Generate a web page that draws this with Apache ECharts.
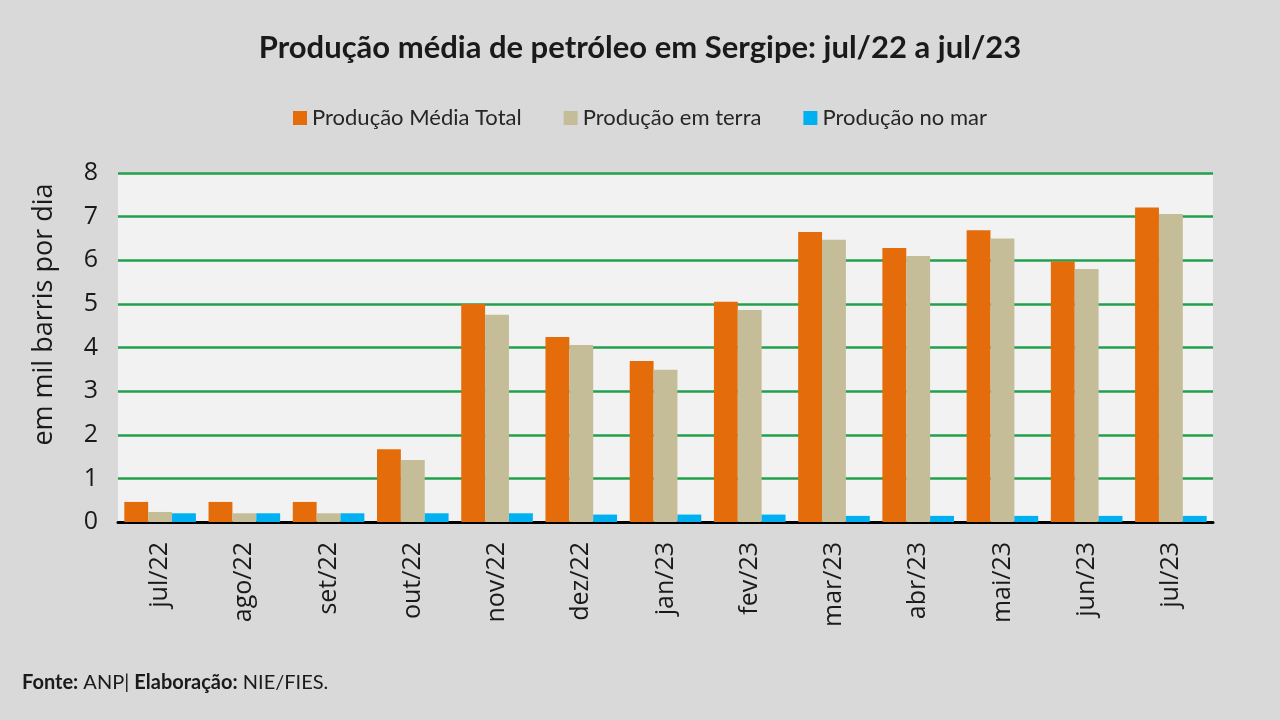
<!DOCTYPE html>
<html>
<head>
<meta charset="utf-8">
<script src="https://cdn.jsdelivr.net/npm/echarts@6/dist/echarts.min.js"></script>
<style>
  html, body { margin: 0; padding: 0; background: #d9d9d9; }
  #chart { width: 1280px; height: 720px; }
</style>
</head>
<body>
<div id="chart"></div>
<script>
// meses (jul/22 a jul/23)
var meses = ['jul/22', 'ago/22', 'set/22', 'out/22', 'nov/22', 'dez/22', 'jan/23',
  'fev/23', 'mar/23', 'abr/23', 'mai/23', 'jun/23', 'jul/23']
// em mil barris por dia
var producaoTotal = [0.46, 0.46, 0.46, 1.67, 5.0, 4.24, 3.69, 5.05, 6.65, 6.28, 6.69, 5.97, 7.21]
var producaoTerra = [0.23, 0.2, 0.2, 1.42, 4.75, 4.06, 3.49, 4.86, 6.47, 6.1, 6.5, 5.8, 7.06]
var producaoMar = [0.2, 0.2, 0.2, 0.2, 0.2, 0.17, 0.17, 0.17, 0.14, 0.14, 0.14, 0.14, 0.14]
var yTicks = [0, 1, 2, 3, 4, 5, 6, 7, 8]

var chart = echarts.init(document.getElementById('chart'))
var option = {
  backgroundColor: '#d9d9d9',
  animation: false,
  title: [{
    text: 'Produção média de petróleo em Sergipe: jul/22 a jul/23',
    left: 'center',
    top: 27,
    textStyle: { fontFamily: 'Lato', fontWeight: 'bold', fontSize: 31, color: '#1a1a1a' }
  }, {
    text: '{b|Fonte:} ANP| {b|Elaboração:} NIE/FIES.',
    left: 17,
    top: 668,
    textStyle: {
      fontFamily: 'Lato', fontWeight: 'normal', fontSize: 20, color: '#1a1a1a',
      rich: { b: { fontFamily: 'Lato', fontWeight: 'bold', fontSize: 20, color: '#1a1a1a' } }
    }
  }],
  legend: {
    top: 102,
    left: 'center',
    itemWidth: 14,
    itemHeight: 14,
    itemGap: 42,
    icon: 'rect',
    textStyle: { fontFamily: 'Lato', fontSize: 22, color: '#262626' },
    data: ['Produção Média Total', 'Produção em terra', 'Produção no mar']
  },
  grid: {
    left: 118,
    right: 67,
    top: 173,
    bottom: 198,
    show: true,
    backgroundColor: '#f2f2f2',
    borderWidth: 0
  },
  xAxis: {
    type: 'category',
    data: meses,
    axisLine: { lineStyle: { color: '#000', width: 3 } },
    axisTick: { show: false },
    axisLabel: {
      rotate: 90,
      margin: 20,
      fontFamily: 'Open Sans',
      fontSize: 25,
      color: '#1a1a1a'
    }
  },
  yAxis: {
    type: 'value',
    min: yTicks[0],
    max: yTicks[yTicks.length - 1],
    interval: 1,
    name: 'em mil barris por dia',
    nameLocation: 'middle',
    nameRotate: 90,
    nameGap: 60,
    nameTextStyle: { fontFamily: 'Open Sans', fontSize: 27, color: '#1a1a1a', padding: [0, 0, 0, 66] },
    axisLine: { show: false },
    axisTick: { show: false },
    axisLabel: { fontFamily: 'Open Sans', fontSize: 25, color: '#1a1a1a', margin: 20 },
    splitLine: { lineStyle: { color: '#22a04b', width: 2.5 } }
  },
  series: [{
    name: 'Produção Média Total',
    type: 'bar',
    data: producaoTotal,
    barGap: '0%',
    barCategoryGap: '15%',
    itemStyle: { color: '#e46c0a' }
  }, {
    name: 'Produção em terra',
    type: 'bar',
    data: producaoTerra,
    itemStyle: { color: '#c4bd97' }
  }, {
    name: 'Produção no mar',
    type: 'bar',
    data: producaoMar,
    itemStyle: { color: '#00b0f0' }
  }]
}
chart.setOption(option)
window.addEventListener('resize', () => {
  chart.resize()
})
</script>
</body>
</html>
